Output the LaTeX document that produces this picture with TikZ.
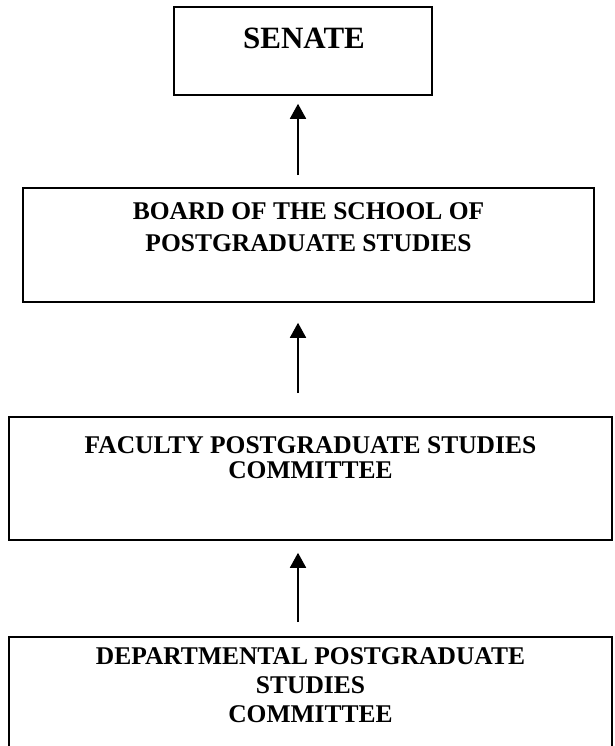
\documentclass[tikz,border=0pt]{standalone}
\usepackage{fontspec}
\setmainfont{Liberation Serif}
\usetikzlibrary{arrows.meta}
\begin{document}
\begin{tikzpicture}[x=1pt,y=-1pt,
  box/.style={draw, line width=1.6pt, rectangle, inner sep=0pt},
  lbl/.style={inner sep=0pt, anchor=north, align=center, font=\fontsize{25.5}{#1}\selectfont\bfseries},
  arr/.style={line width=1.8pt, -{Triangle[width=16pt,length=15pt]}}]
\clip (0,0) rectangle (614,746);
\useasboundingbox (0,0) rectangle (614,746);
% boxes
\node[box, minimum width=258pt, minimum height=88pt] (senate) at (303,51) {};
\node[box, minimum width=571pt, minimum height=114pt] (board) at (308.5,245) {};
\node[box, minimum width=603pt, minimum height=123pt] (faculty) at (310.5,478.5) {};
\node[box, minimum width=603pt, minimum height=130pt] (dept) at (310.5,702) {};
% texts
\node[inner sep=0pt, anchor=base, font=\fontsize{31}{36}\selectfont\bfseries] (tsenate) at (304,49) {SENATE};
\node[lbl=32] (tboard) at (308.5,202) {BOARD OF THE SCHOOL OF\\POSTGRADUATE STUDIES};
\node[lbl=25.5] (tfaculty) at (310.5,436) {FACULTY POSTGRADUATE STUDIES\\COMMITTEE};
\node[lbl=29] (tdept) at (310.5,647) {DEPARTMENTAL POSTGRADUATE\\STUDIES\\COMMITTEE};
% arrows
\coordinate (axis) at (298,0);
\draw[arr, shorten <=12pt, shorten >=8pt] (axis |- board.north) -- (axis |- senate.south);
\draw[arr, shorten <=23pt, shorten >=20pt] (axis |- faculty.north) -- (axis |- board.south);
\draw[arr, shorten <=14pt, shorten >=12pt] (axis |- dept.north) -- (axis |- faculty.south);
\end{tikzpicture}
\end{document}
